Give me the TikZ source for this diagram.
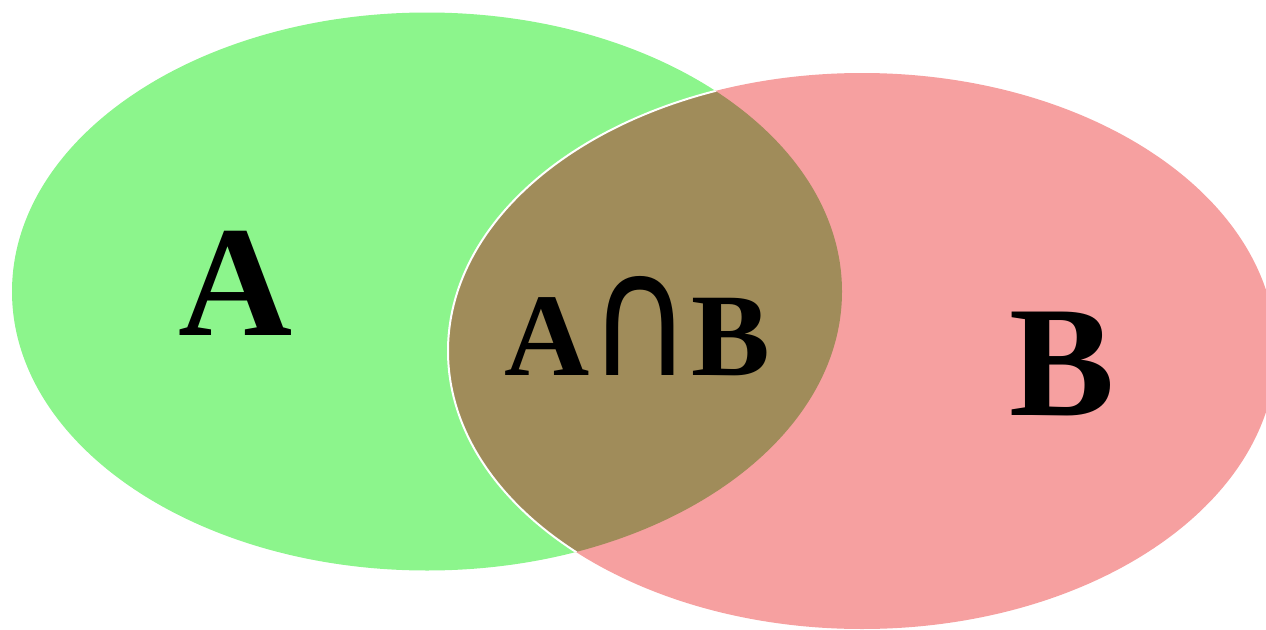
\documentclass[tikz,border=0pt]{standalone}
\usepackage{fontspec}
\usepackage{graphicx}
\setmainfont{Liberation Serif}[BoldFont={Liberation Serif Bold}]
\newfontfamily\capfont{DejaVu Sans}
\definecolor{setgreen}{RGB}{140,245,140}
\definecolor{setred}{RGB}{246,160,160}
\definecolor{setmix}{RGB}{160,140,90}
\begin{document}
\begin{tikzpicture}[x=1pt,y=-1pt,
  setlabel/.style={anchor=base,inner sep=0pt,font=\bfseries\fontsize{158}{160}\selectfont},
  midlabel/.style={anchor=base,inner sep=0pt,font=\bfseries\fontsize{118}{120}\selectfont}]
\useasboundingbox (0,0) rectangle (1266,629);
\fill[setgreen] (427,291.5) ellipse [x radius=415, y radius=279];
\fill[setred] (862,351) ellipse [x radius=414, y radius=278];
\begin{scope}
  \clip (427,291.5) ellipse [x radius=415, y radius=279];
  \fill[setmix] (862,351) ellipse [x radius=414, y radius=278];
  \draw[white,line width=2pt] (862,351) ellipse [x radius=414, y radius=278];
\end{scope}
\node[setlabel] (a) at (236,335) {A};
\node[midlabel] (ab) at (637,375) {A\kern-1pt\scalebox{1.2}[1.45]{\mdseries\capfont ∩}\kern-1ptB};
\node[setlabel] (b) at (1062,415) {B};
\end{tikzpicture}
\end{document}
